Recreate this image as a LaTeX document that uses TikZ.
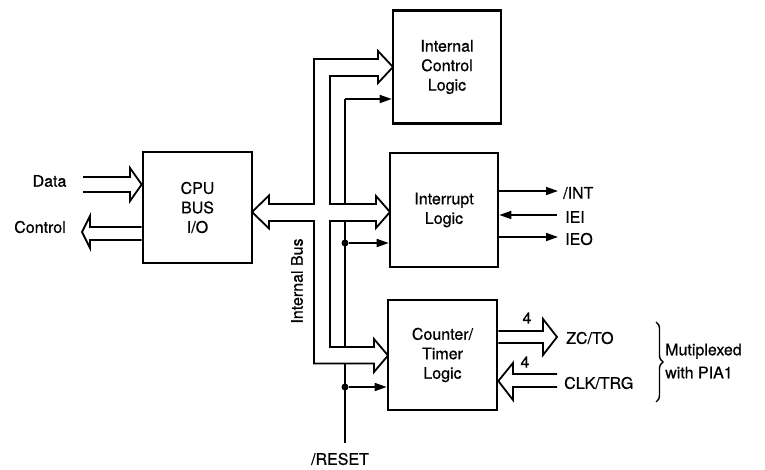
\documentclass[tikz,border=0pt]{standalone}
\usepackage{fontspec}
\setmainfont{TeX Gyre Heros}[FakeBold=0.6]
\usetikzlibrary{arrows.meta,decorations.pathreplacing}
\begin{document}
\begin{tikzpicture}[x=1pt,y=-1pt,
  every node/.style={font=\fontsize{16}{19.5}\selectfont},
  block/.style={draw,line width=2.6pt,fill=white,align=center,inner sep=0pt},
  fat/.style={line width=1.8pt,line join=miter},
  sig/.style={line width=1.6pt,-{Triangle[length=12pt,width=8pt]}},
  lbl/.style={inner sep=0pt},
  junct/.style={circle,fill,inner sep=0pt,minimum size=7pt}]
\useasboundingbox (0,0) rectangle (765,470);

% blocks
\node[block,minimum width=108pt,minimum height=113pt] (icl) at (447,67) {Internal\\Control\\Logic};
\node[block,minimum width=108pt,minimum height=114pt] (int) at (444,210) {Interrupt\\Logic};
\node[block,minimum width=109pt,minimum height=110pt] (ctl) at (442.5,355) {Counter/\\Timer\\Logic};
\node[block,minimum width=109pt,minimum height=111pt] (cpu) at (197.5,207.5) {CPU\\BUS\\I/O};

% reset line
\coordinate (rstEnd) at (345,443);
\coordinate (rstTop) at (345,99);
\draw[line width=1.6pt] (rstEnd) -- (rstTop);
\draw[sig] (rstTop) -- (icl.west |- rstTop);
\node[junct] (j1) at (345,243) {};
\node[junct] (j2) at (345,387) {};
\draw[sig] (j1) -- (int.west |- j1);
\draw[sig] (j2) -- (ctl.west |- j2);
\node[lbl] (rst) at (340,459) {/RESET};

% internal bus (outline, drawn over reset line)
\draw[fat,fill=white] (252,212) -- (269,195.5) -- (269,204) -- (314,204) -- (314,59)
  -- (378,59) -- (378,51) -- (393,67) -- (378,83) -- (378,76) -- (330,76) -- (330,204)
  -- (376,204) -- (376,196) -- (390,212) -- (376,228) -- (376,221) -- (330,221)
  -- (330,347) -- (374,347) -- (374,339) -- (388,355.5) -- (374,372) -- (374,363.5)
  -- (314,363.5) -- (314,221) -- (269,221) -- (269,228.5) -- cycle;
\node[lbl,rotate=90] (ibus) at (297,281) {Internal Bus};

% Data / Control
\node[lbl] (data) at (49.5,181) {Data};
\node[lbl] (ctrl) at (40,227) {Control};
\draw[fat] (83,177) -- (130,177) -- (130,168) -- (cpu.west |- 0,184.5) -- (130,201) -- (130,192) -- (83,192);
\draw[fat] (cpu.west |- 0,227) -- (90,227) -- (90,216) -- (82,232) -- (90,248) -- (90,240) -- (cpu.west |- 0,240);

% interrupt signals
\coordinate (intO) at (558,191);
\coordinate (ieiI) at (557,215);
\coordinate (ieoO) at (558,237);
\draw[sig] (int.east |- intO) -- (intO);
\draw[sig] (ieiI) -- (int.east |- ieiI);
\draw[sig] (int.east |- ieoO) -- (ieoO);
\node[lbl,anchor=west] (intl) at (563,193) {/INT};
\node[lbl,anchor=west] (ieil) at (565,217) {IEI};
\node[lbl,anchor=west] (ieol) at (565,239) {IEO};

% counter/timer I/O
\draw[fat] (ctl.east |- 0,331) -- (543,331) -- (543,319) -- (557,337) -- (543,355) -- (543,343) -- (ctl.east |- 0,343);
\draw[fat] (557,374) -- (513,374) -- (513,363) -- (ctl.east |- 0,381) -- (513,400) -- (513,387) -- (557,387);
\node[lbl] (n4a) at (527,318) {4};
\node[lbl] (n4b) at (525,362) {4};
\node[lbl,anchor=west] (zc) at (566,338) {ZC/TO};
\node[lbl,anchor=west] (clk) at (564,383) {CLK/TRG};

\draw[line width=1.4pt,decorate,decoration={brace,amplitude=7pt}] (656,322) -- (656,402);
\node[lbl,anchor=west,align=left,font=\fontsize{16}{23}\selectfont] (mux) at (665,361) {Mutiplexed\\with PIA1};
\end{tikzpicture}
\end{document}
